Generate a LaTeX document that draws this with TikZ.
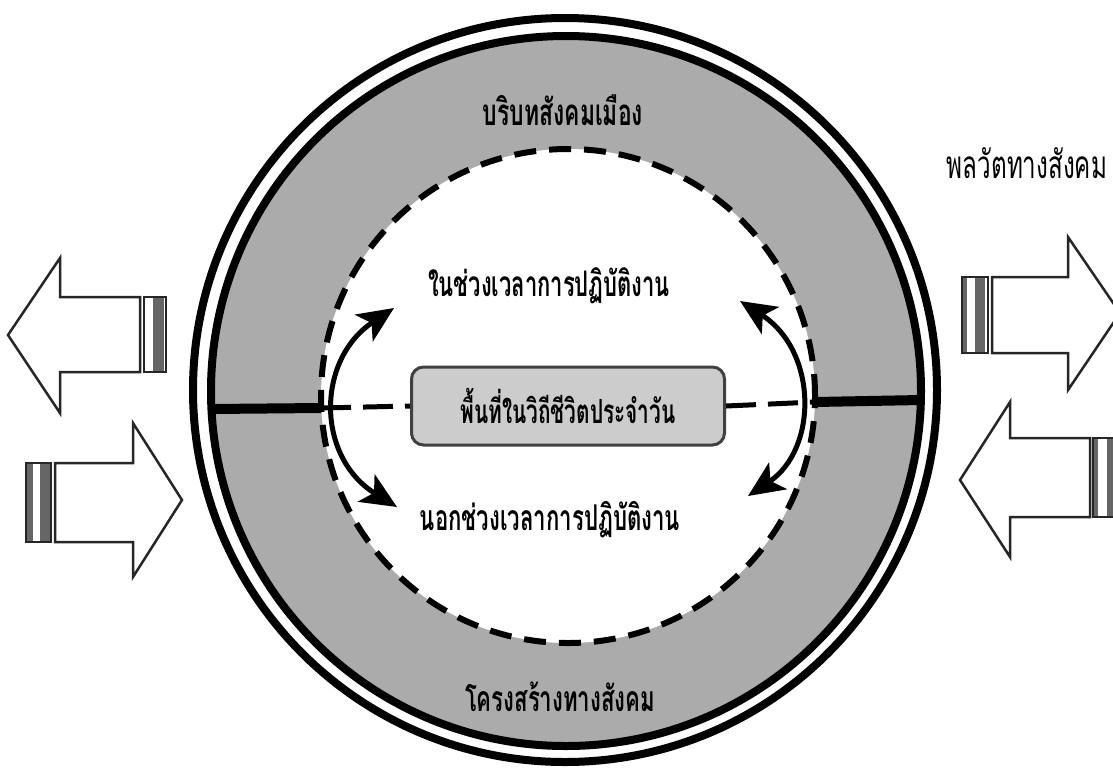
\documentclass[tikz,border=0pt]{standalone}
\usepackage{fontspec}
\newfontfamily\thai[Script=Thai]{Loma}
\usetikzlibrary{arrows.meta}
\newcommand\tx[2]{\scalebox{1}[1.6]{\resizebox{#1pt}{!}{#2}}}
\begin{document}
\begin{tikzpicture}[x=1pt,y=-1pt,
  ringline/.style={line width=8pt},
  blockarrow/.style={draw=black!85, line width=2.5pt, fill=white, line join=miter},
  stripe/.style={fill=black!60, draw=none},
  stripebox/.style={draw=black!85, line width=2pt},
  curvearrow/.style={line width=5pt, {Stealth[length=36pt,width=32pt,inset=9pt]}-{Stealth[length=36pt,width=32pt,inset=9pt]}},
  bar/.style={line width=10pt},
  dashline/.style={line width=5pt, dash pattern=on 30pt off 12pt},
  lbl/.style={font=\thai\bfseries, inner sep=0pt},
  lblr/.style={font=\thai, inner sep=0pt},
  box/.style={draw=black!75, line width=3pt, fill=black!20, rounded corners=12pt,
              minimum width=313pt, minimum height=78pt, inner sep=0pt, font=\thai\bfseries}]
\useasboundingbox (0,0) rectangle (1113,772);
\clip (0,0) rectangle (1113,772);
% ring
\fill[black!33] (566,391) circle[radius=355pt];
\fill[white] (568,396) circle[radius=247pt];
\draw[line width=6pt, dash pattern=on 22pt off 13pt] (568,396) circle[radius=247pt];
\draw[ringline] (566,391) circle[radius=355pt];
\draw[ringline] (565,390) circle[radius=372pt];
% bars and dashed axis
\coordinate (L) at (321,408);
\coordinate (R) at (815,402);
\coordinate (Lr) at (211,409);
\coordinate (Rr) at (921,400);
\draw[bar] (Lr) -- (L);
\draw[bar] (R) -- (Rr);
\node[box] (space) at (568,406) {\tx{215}{พื้นที่ในวิถีชีวิตประจำวัน}};
\draw[dashline] (L) -- (space.west);
\draw[dashline] (space.east) -- (R);
% curved arrows
\coordinate (la) at (394,308);
\coordinate (lb) at (397,507);
\coordinate (ra) at (740,301);
\coordinate (rb) at (748,496);
\draw[curvearrow] (la) .. controls (316,360) and (316,457) .. (lb);
\draw[curvearrow] (ra) .. controls (818,351) and (818,449) .. (rb);
% labels
\node[lbl] (urban) at (563,110) {\tx{160}{บริบทสังคมเมือง}};
\node[lbl] (struct) at (560,697) {\tx{190}{โครงสร้างทางสังคม}};
\node[lbl] (during) at (549,286) {\tx{242}{ในช่วงเวลาการปฏิบัติงาน}};
\node[lbl] (outside) at (550,520) {\tx{260}{นอกช่วงเวลาการปฏิบัติงาน}};
\node[lblr] (dyn) at (1027,163) {\tx{160}{พลวัตทางสังคม}};
% block arrows left
\draw[blockarrow] (8,335) -- (60,258) -- (60,297) -- (140,297) -- (140,372) -- (60,372) -- (60,413) -- cycle;
\fill[stripe] (153,297) rectangle (164,372);
\draw[stripebox] (144,297) rectangle (166,372);
\draw[blockarrow] (182,500) -- (133,423) -- (133,463) -- (55,463) -- (55,542) -- (133,542) -- (133,577) -- cycle;
\fill[stripe] (26,463) rectangle (33,542);
\fill[stripe] (40,463) rectangle (50,542);
\draw[stripebox] (26,463) rectangle (51,542);
% block arrows right
\draw[blockarrow] (1120,313) -- (1068,237) -- (1068,277) -- (992,277) -- (992,353) -- (1068,353) -- (1068,390) -- cycle;
\fill[stripe] (962,277) rectangle (967,353);
\fill[stripe] (975,277) rectangle (985,353);
\draw[stripebox] (962,277) rectangle (988,353);
\draw[blockarrow] (960,480) -- (1010,402) -- (1010,438) -- (1090,438) -- (1090,517) -- (1010,517) -- (1010,557) -- cycle;
\fill[stripe] (1093,438) rectangle (1098,517);
\fill[stripe] (1107,438) rectangle (1118,517);
\draw[stripebox] (1093,438) rectangle (1118,517);
\end{tikzpicture}
\end{document}
